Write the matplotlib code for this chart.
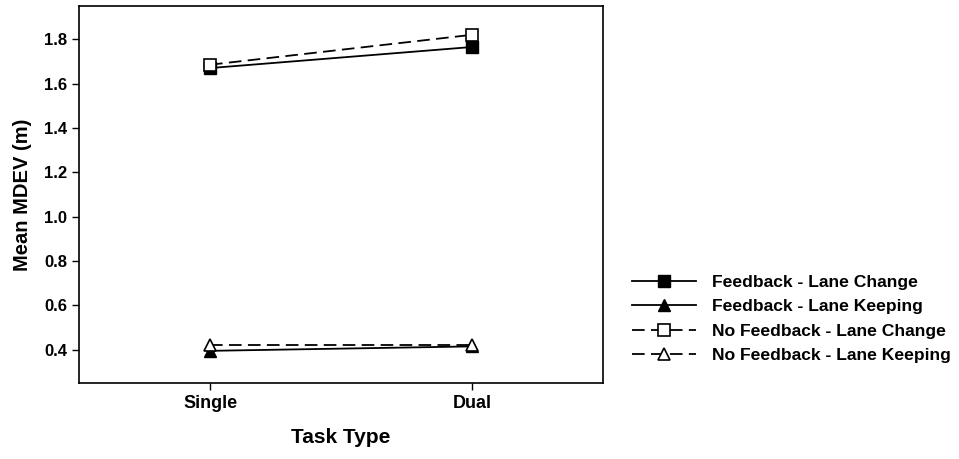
import matplotlib
matplotlib.use("Agg")
import matplotlib.pyplot as plt

plt.rcParams["font.family"] = ["Liberation Sans", "DejaVu Sans"]
plt.rcParams["font.weight"] = "bold"

tasks = ["Single", "Dual"]
fb_lane_change = [1.67, 1.765]
fb_lane_keeping = [0.395, 0.415]
nofb_lane_change = [1.685, 1.82]
nofb_lane_keeping = [0.42, 0.42]

fig = plt.figure(figsize=(9.59, 4.59), dpi=100)
ax = fig.add_axes([0.0824, 0.1656, 0.5464, 0.8214])

x = list(range(len(tasks)))
dash = (0, (7, 3.5))
ax.plot(x, fb_lane_change, color="black", lw=1.3, marker="s", ms=8.5,
        mfc="black", mec="black", label="Feedback - Lane Change")
ax.plot(x, fb_lane_keeping, color="black", lw=1.3, marker="^", ms=9,
        mfc="black", mec="black", label="Feedback - Lane Keeping")
ax.plot(x, nofb_lane_change, color="black", lw=1.3, ls=dash, marker="s", ms=8.5,
        mfc="white", mec="black", mew=1.2, label="No Feedback - Lane Change")
ax.plot(x, nofb_lane_keeping, color="black", lw=1.3, ls=dash, marker="^", ms=9,
        mfc="white", mec="black", mew=1.2, label="No Feedback - Lane Keeping")

ax.set_xlim(-0.5, 1.5)
ax.set_ylim(0.25, 1.95)
ax.set_xticks(x)
ax.set_xticklabels(tasks, fontsize=13, fontweight="bold")
ax.set_yticks([0.4, 0.6, 0.8, 1.0, 1.2, 1.4, 1.6, 1.8])
ax.set_yticklabels([f"{v:.1f}" for v in ax.get_yticks()], fontsize=12, fontweight="bold")
ax.tick_params(direction="out", length=5, width=1, top=False, right=False)
for s in ax.spines.values():
    s.set_linewidth(1.2)

ax.set_xlabel("Task Type", fontsize=15, fontweight="bold", labelpad=12)
ax.set_ylabel("Mean MDEV (m)", fontsize=14.5, fontweight="bold", labelpad=9)

fig.legend(loc="upper left", bbox_to_anchor=(0.652, 0.4165), frameon=False,
           fontsize=12.6, handlelength=3.65, handletextpad=0.9, labelspacing=0.52,
           borderaxespad=0)

fig.savefig("out.png", dpi=100)
